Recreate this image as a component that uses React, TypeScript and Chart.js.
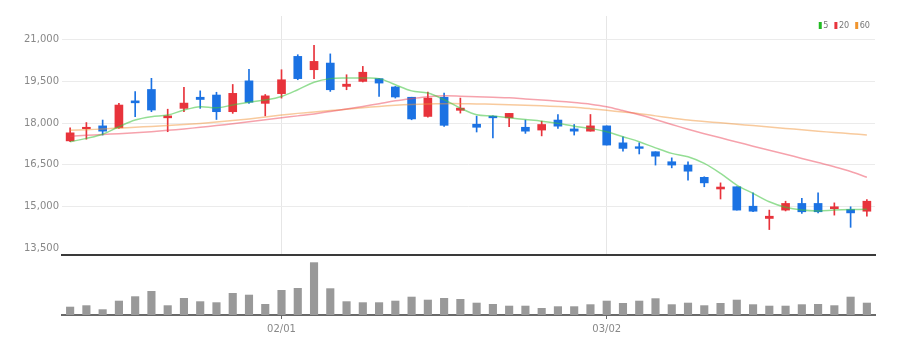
import React, { useEffect, useRef } from 'react';
import { Chart, registerables } from 'chart.js';
Chart.register(...registerables);

const dates = ['01/11','01/12','01/13','01/16','01/17','01/18','01/19','01/20','01/25','01/26','01/27','01/30','01/31',
  '02/01','02/02','02/03','02/06','02/07','02/08','02/09','02/10','02/13','02/14','02/15','02/16','02/17','02/20','02/21','02/22','02/23','02/24','02/27','02/28',
  '03/02','03/03','03/06','03/07','03/08','03/09','03/10','03/13','03/14','03/15','03/16','03/17','03/20','03/21','03/22','03/23','03/24'];

const opens = [17360,17800,17900,17830,18800,19210,18190,18530,18930,19010,18410,19520,18710,
  19060,20400,19920,20160,19320,19500,19600,19300,18930,18240,18930,18460,17960,18250,18190,17850,17750,18110,17790,17710,
  17900,17290,17150,16970,16610,16490,16050,15630,15710,15010,14570,14870,15110,15110,14920,14890,14830];
const highs = [17830,18020,18110,18710,19130,19610,18500,19290,19160,19110,19390,19930,19030,
  19920,20460,20800,20490,19740,20040,19600,19320,18930,19120,19080,18900,18250,18260,18350,18110,18070,18310,17950,18310,
  17900,17510,17290,16970,16750,16610,16070,15850,15710,15490,14870,15190,15290,15490,15130,14990,15250];
const lows = [17330,17420,17570,17810,18230,18410,17690,18410,18530,18130,18350,18710,18260,
  18900,19560,19600,19140,19200,19480,18960,18900,18120,18210,17880,18360,17680,17470,17870,17630,17540,17810,17570,17710,
  17210,16990,16890,16490,16390,15950,15710,15270,14870,14810,14170,14840,14750,14770,14690,14250,14650];
const closes = [17650,17850,17710,18650,18730,18470,18260,18720,18850,18410,19070,18750,18980,
  19560,19600,20220,19200,19400,19830,19440,18940,18150,18900,17920,18540,17850,18190,18350,17710,17950,17890,17710,17900,
  17210,17090,17090,16810,16490,16270,15850,15700,14870,14830,14650,15110,14810,14810,14990,14770,15190];

const ma5 = [17330,17450,17600,17870,18110,18230,18290,18470,18590,18550,18650,18750,18830,
  18960,19200,19470,19600,19620,19620,19600,19380,19160,19080,18840,18540,18300,18260,18190,18130,18070,17990,17890,17810,
  17690,17510,17330,17110,16910,16790,16550,16190,15770,15470,15170,14970,14870,14840,14870,14890,14900];
const ma20 = [17530,17560,17590,17620,17650,17690,17740,17790,17850,17910,17980,18050,18120,
  18190,18260,18330,18420,18510,18600,18700,18800,18880,18950,18980,18970,18950,18930,18910,18870,18830,18790,18740,18680,
  18590,18450,18300,18130,17950,17780,17620,17470,17320,17170,17020,16880,16730,16580,16430,16260,16050];
const ma60 = [17740,17760,17790,17820,17850,17880,17910,17950,17990,18040,18090,18150,18220,
  18290,18350,18400,18450,18500,18550,18600,18640,18670,18690,18700,18700,18690,18680,18660,18640,18620,18600,18570,18520,
  18460,18400,18340,18260,18180,18110,18060,18010,17960,17910,17860,17810,17760,17710,17660,17620,17570];

const volumes = [166000,194000,114000,286000,374000,480000,194000,340000,274000,254000,440000,406000,220000,
  500000,540000,1054000,534000,274000,254000,254000,286000,366000,306000,340000,320000,246000,220000,186000,186000,140000,174000,174000,214000,
  286000,240000,286000,334000,214000,246000,194000,240000,306000,214000,186000,186000,214000,220000,194000,366000,246000];

const priceTicks = [13500, 15000, 16500, 18000, 19500, 21000];
const maNames = ['5', '20', '60'];
const maLegendColors = ['#22bb22', '#e8343c', '#f0952e'];

const UP = '#e8333b';
const DOWN = '#1b72e3';
const FONT = "'DejaVu Sans', 'Liberation Sans Narrow', sans-serif";
const STRETCH = 'condensed';

const isMonthStart = (i: number) => i > 0 && dates[i].slice(0, 2) !== dates[i - 1].slice(0, 2);

const legendPlugin = {
  id: 'maLegend',
  afterDraw(chart: any) {
    const ctx = chart.ctx;
    ctx.save();
    ctx.font = `${STRETCH} 9px ${FONT}`;
    ctx.textBaseline = 'middle';
    ctx.textAlign = 'left';
    const boxW = 3, boxH = 7, gap = 1.5, itemGap = 6;
    const y = 25.5;
    const widths = maNames.map((n) => boxW + gap + ctx.measureText(n).width);
    const total = widths.reduce((a, b) => a + b, 0) + itemGap * (maNames.length - 1);
    let x = chart.chartArea.right - 5 - total;
    maNames.forEach((n, i) => {
      ctx.fillStyle = maLegendColors[i];
      ctx.fillRect(x, y - boxH / 2, boxW, boxH);
      ctx.fillStyle = '#777';
      ctx.fillText(n, x + boxW + gap, y);
      x += widths[i] + itemGap;
    });
    ctx.restore();
  },
};

export default function App() {
  const priceRef = useRef<HTMLCanvasElement>(null);
  const volRef = useRef<HTMLCanvasElement>(null);

  useEffect(() => {
    const candleColors = opens.map((o, i) => (closes[i] >= o ? UP : DOWN));
    const price = new Chart(priceRef.current!, {
      type: 'bar',
      data: {
        labels: dates,
        datasets: [
          { type: 'line', label: maNames[0], data: ma5, borderColor: 'rgba(60,195,60,0.55)', borderWidth: 1.5, pointRadius: 0, tension: 0.35, order: 0 } as any,
          { type: 'line', label: maNames[1], data: ma20, borderColor: 'rgba(238,70,90,0.5)', borderWidth: 1.5, pointRadius: 0, tension: 0.35, order: 0 } as any,
          { type: 'line', label: maNames[2], data: ma60, borderColor: 'rgba(242,150,60,0.5)', borderWidth: 1.5, pointRadius: 0, tension: 0.35, order: 0 } as any,
          { type: 'bar', label: 'wick', data: lows.map((l, i) => [l, highs[i]]), backgroundColor: candleColors, barThickness: 1, grouped: false, order: 2 } as any,
          { type: 'bar', label: 'body', data: opens.map((o, i) => [o, closes[i]]), backgroundColor: candleColors, barThickness: 8, grouped: false, order: 1 } as any,
        ],
      },
      plugins: [legendPlugin],
      options: {
        responsive: false,
        animation: false,
        devicePixelRatio: 1,
        layout: { padding: { left: 0, right: 36, top: 16, bottom: 5 } },
        plugins: {
          tooltip: { enabled: false },
          legend: { display: false },
        },
        scales: {
          x: {
            offset: true,
            ticks: { display: false, autoSkip: false },
            grid: {
              offset: false,
              drawTicks: false,
              color: (ctx: any) => (isMonthStart(ctx.index) ? '#e6e6e6' : 'rgba(0,0,0,0)'),
            },
            border: { color: '#3a3a3a', width: 2 },
            afterFit: (s: any) => { s.height = 0; s.paddingLeft = 0; s.paddingRight = 0; },
          },
          y: {
            min: 13255,
            max: 21853,
            afterBuildTicks: (s: any) => { s.ticks = priceTicks.map((v) => ({ value: v })); },
            afterFit: (s: any) => { s.width = 62; s.paddingTop = 0; s.paddingBottom = 0; },
            ticks: {
              padding: 3,
              color: '#888',
              font: { family: FONT, size: 10, style: STRETCH as any },
              callback: (v: any) => Number(v).toLocaleString('en-US'),
            },
            grid: { drawTicks: false, color: (ctx: any) => (ctx.tick && ctx.tick.value === 13500 ? 'rgba(0,0,0,0)' : '#ebebeb') },
            border: { display: false },
          },
        },
      },
    });

    const vol = new Chart(volRef.current!, {
      type: 'bar',
      data: {
        labels: dates,
        datasets: [
          { label: 'volume', data: volumes, backgroundColor: '#999999', barPercentage: 0.5, categoryPercentage: 1 },
        ],
      },
      options: {
        responsive: false,
        animation: false,
        devicePixelRatio: 1,
        layout: { padding: { left: 62, right: 36, top: 3, bottom: 0 } },
        plugins: { legend: { display: false }, tooltip: { enabled: false } },
        scales: {
          x: {
            offset: true,
            afterFit: (s: any) => { s.height = 39; s.paddingLeft = 0; s.paddingRight = 0; },
            ticks: {
              autoSkip: false,
              maxRotation: 0,
              padding: 4,
              color: '#888',
              font: { family: FONT, size: 10, style: STRETCH as any },
              callback: (_v: any, i: number) => (isMonthStart(i) ? dates[i] : ''),
            },
            grid: {
              offset: false,
              drawOnChartArea: false,
              tickLength: 4,
              color: 'rgba(0,0,0,0)',
              tickColor: (ctx: any) => (isMonthStart(ctx.index) ? '#666' : 'rgba(0,0,0,0)'),
            },
            border: { color: '#6a6a6a', width: 2 },
          },
          y: { display: false, min: 0, max: 1140000 },
        },
      },
    });

    return () => { price.destroy(); vol.destroy(); };
  }, []);

  return (
    <div style={{ position: 'absolute', left: 0, top: 0, width: 911, height: 354, background: '#fff' }}>
      <canvas ref={priceRef} width={911} height={260} style={{ position: 'absolute', left: 0, top: 0 }} />
      <canvas ref={volRef} width={911} height={99} style={{ position: 'absolute', left: 0, top: 255 }} />
    </div>
  );
}
